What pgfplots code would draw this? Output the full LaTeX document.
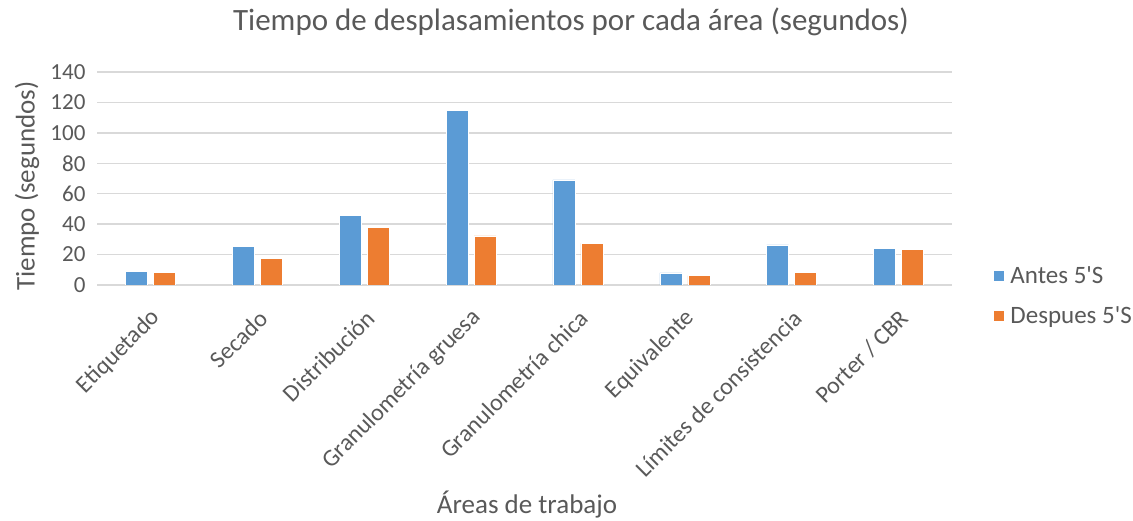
\documentclass[border=0pt]{standalone}
\usepackage{fontspec}
\setmainfont{Carlito}
\usepackage{pgfplots}
\pgfplotsset{compat=1.18}
\definecolor{cblue}{HTML}{5B9BD5}
\definecolor{corange}{HTML}{ED7D31}
\definecolor{ctext}{HTML}{595959}
\definecolor{cgrid}{HTML}{D9D9D9}
\begin{document}
\begin{tikzpicture}
\path[use as bounding box] (0,0) rectangle (1133pt,521pt);
\begin{axis}[
  at={(97pt,236pt)}, anchor=south west,
  scale only axis, width=855pt, height=213pt,
  ybar=6pt, bar width=22pt,
  xmin=-0.5, xmax=7.5, ymin=0, ymax=140,
  ytick={0,20,...,140},
  xtick={0,...,7},
  xticklabels={Etiquetado,Secado,Distribución,Granulometría gruesa,Granulometría chica,Equivalente,Límites de consistencia,Porter / CBR},
  x tick label style={rotate=45, anchor=east, font=\fontsize{24}{26}\selectfont, text=ctext, yshift=-25pt, xshift=-13pt},
  y tick label style={font=\fontsize{23}{24}\selectfont, text=ctext},
  /pgf/number format/assume math mode=true,
  axis line style={draw=none},
  major tick length=0pt,
  ymajorgrids, grid style={cgrid, line width=1.5pt},
  yticklabel style={xshift=-8pt},
  legend style={at={(1.044,-0.05)}, anchor=west, draw=none, fill=none,
    font=\fontsize{25}{26}\selectfont, text=ctext, row sep=17pt,
    legend cell align=left, /tikz/every even column/.append style={column sep=0pt}},
  legend image code/.code={\fill[#1] (0pt,-5.5pt) rectangle (11pt,5.5pt);},
  legend style={nodes={inner xsep=6pt}},
]
\addplot[fill=cblue, draw=white, line width=0.6pt] coordinates {(0,9.0) (1,25.2) (2,45.9) (3,114.8) (4,69.1) (5,7.9) (6,26.3) (7,23.9)};
\addplot[fill=corange, draw=white, line width=0.6pt] coordinates {(0,8.1) (1,17.3) (2,37.7) (3,32.3) (4,27.4) (5,6.1) (6,8.3) (7,23.5)};
\legend{Antes 5\textquotesingle S, Despues 5\textquotesingle S}
\end{axis}
\node[text=ctext, font=\fontsize{31}{34}\selectfont] at (571pt,499pt) {Tiempo de desplasamientos por cada área (segundos)};
\node[text=ctext, font=\fontsize{27}{30}\selectfont] at (527pt,16pt) {Áreas de trabajo};
\node[text=ctext, font=\fontsize{27}{30}\selectfont, rotate=90] at (27pt,335pt) {Tiempo (segundos)};
\end{tikzpicture}
\end{document}
